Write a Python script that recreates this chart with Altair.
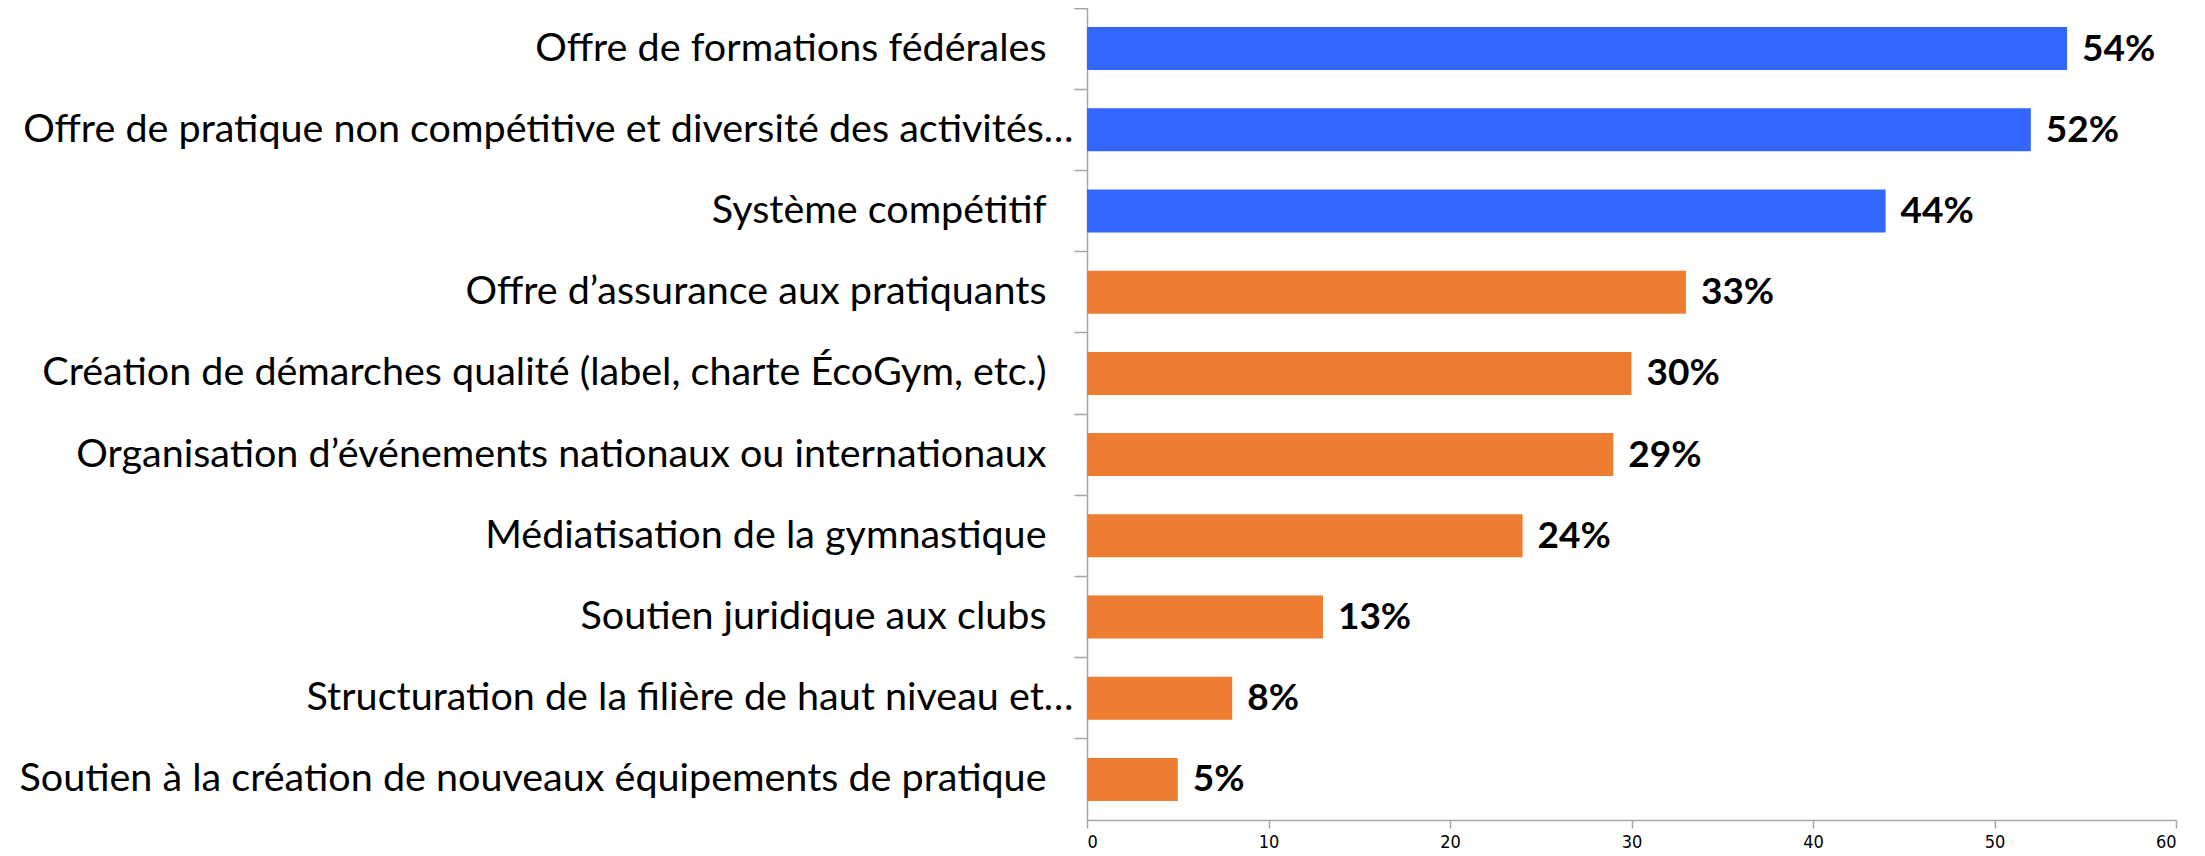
import altair as alt
import pandas as pd

categories = [
    "Offre de formations fédérales",
    "Offre de pratique non compétitive et diversité des activités…",
    "Système compétitif",
    "Offre d’assurance aux pratiquants",
    "Création de démarches qualité (label, charte ÉcoGym, etc.)",
    "Organisation d’événements nationaux ou internationaux",
    "Médiatisation de la gymnastique",
    "Soutien juridique aux clubs",
    "Structuration de la filière de haut niveau et…",
    "Soutien à la création de nouveaux équipements de pratique",
]
values = [54, 52, 44, 33, 30, 29, 24, 13, 8, 5]
groups = ["A", "A", "A", "B", "B", "B", "B", "B", "B", "B"]
colors = ["#3366FF", "#ED7D31"]
x_ticks = [0, 10, 20, 30, 40, 50, 60]

df = pd.DataFrame({
    "cat": categories,
    "val": values,
    "grp": groups,
    "lab": [f"{v}%" for v in values],
})

y_enc = alt.Y(
    "cat:N",
    sort=categories,
    title=None,
    scale=alt.Scale(paddingInner=0, paddingOuter=0),
    axis=alt.Axis(
        bandPosition=0,
        tickExtra=True,
        labelFont="Lato",
        labelFontSize=39.5,
        labelColor="#000000",
        labelLimit=2000,
        labelPadding={"condition": {"test": "indexof(datum.label, '…') >= 0", "value": 1}, "value": 28},
        tickSize=13,
        tickColor="#A6A6A6",
        domainColor="#A6A6A6",
        tickWidth=1.5,
        domainWidth=1.5,
        grid=False,
    ),
)
x_enc = alt.X(
    "val:Q",
    title=None,
    scale=alt.Scale(domain=[0, 60], nice=False),
    axis=alt.Axis(
        values=x_ticks,
        labelFont="Liberation Sans Narrow, DejaVu Sans Condensed, Lato",
        labelFontSize=18,
        labelColor="#000000",
        labelPadding=5,
        tickSize=8,
        tickColor="#A6A6A6",
        domainColor="#A6A6A6",
        tickWidth=1.5,
        domainWidth=1.5,
        grid=False,
    ),
)

bars = alt.Chart(df).mark_bar(height={"band": 0.53}).encode(
    y=y_enc,
    x=x_enc,
    color=alt.Color("grp:N", scale=alt.Scale(domain=["A", "B"], range=colors), legend=None),
)

text = alt.Chart(df).mark_text(
    align="left", baseline="middle", dx=15, dy=1, font="Lato", fontSize=37, fontWeight="bold", color="#000000"
).encode(
    y=alt.Y("cat:N", sort=categories),
    x="val:Q",
    text="lab:N",
)

chart = (bars + text).properties(
    width=1089,
    height=812,
    autosize=alt.AutoSizeParams(type="none"),
    padding={"left": 1079, "top": 0, "right": 21, "bottom": 30},
).configure(background="white").configure_view(stroke=None)

chart.save("out.html", embed_options={"renderer": "svg", "actions": False})
